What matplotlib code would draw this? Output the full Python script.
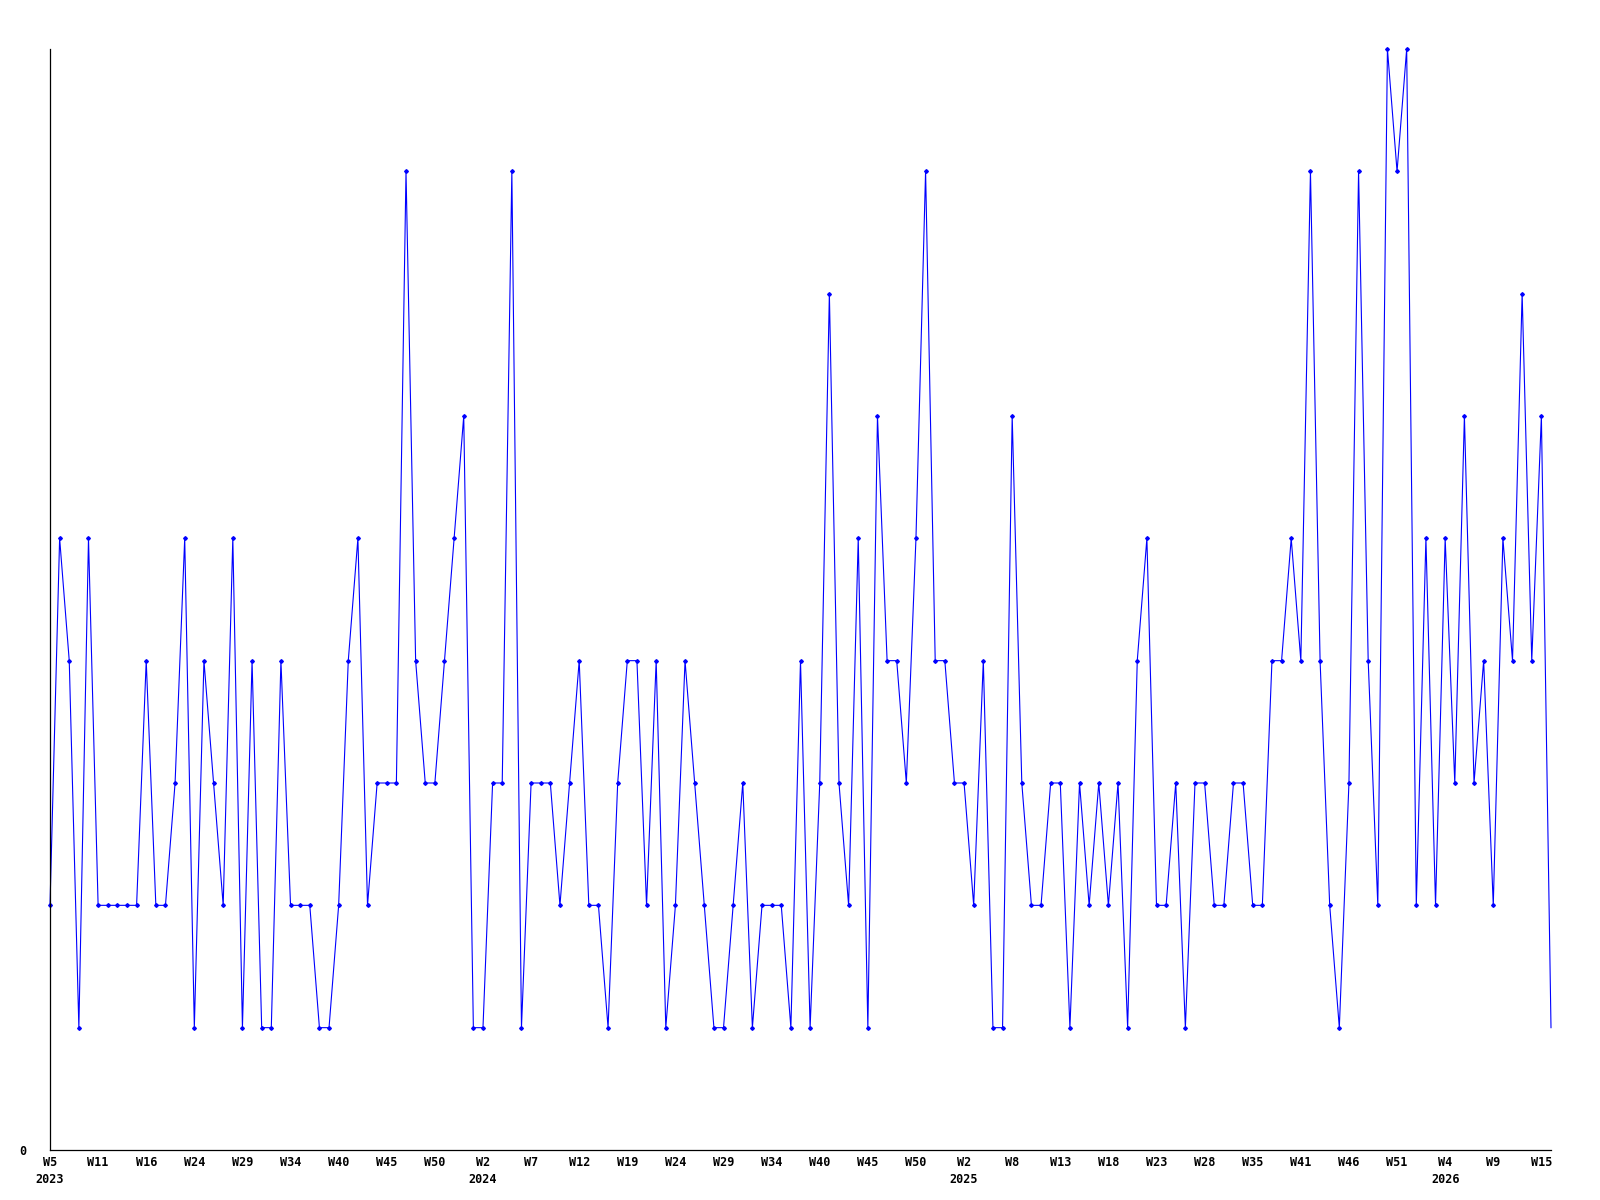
import matplotlib
matplotlib.use('Agg')
import matplotlib.pyplot as plt

# valores semanais (um ponto por semana registada)
valores = [
    2, 5, 4, 1, 5, 2, 2, 2, 2, 2,
    4, 2, 2, 3, 5, 1, 4, 3, 2, 5,
    1, 4, 1, 1, 4, 2, 2, 2, 1, 1,
    2, 4, 5, 2, 3, 3, 3, 8, 4, 3,
    3, 4, 5, 6, 1, 1, 3, 3, 8, 1,
    3, 3, 3, 2, 3, 4, 2, 2, 1, 3,
    4, 4, 2, 4, 1, 2, 4, 3, 2, 1,
    1, 2, 3, 1, 2, 2, 2, 1, 4, 1,
    3, 7, 3, 2, 5, 1, 6, 4, 4, 3,
    5, 8, 4, 4, 3, 3, 2, 4, 1, 1,
    6, 3, 2, 2, 3, 3, 1, 3, 2, 3,
    2, 3, 1, 4, 5, 2, 2, 3, 1, 3,
    3, 2, 2, 3, 3, 2, 2, 4, 4, 5,
    4, 8, 4, 2, 1, 3, 8, 4, 2, 9,
    8, 9, 2, 5, 2, 5, 3, 6, 3, 4,
    2, 5, 4, 7, 4, 6, 1,
]

# rotulo a cada 5 pontos
semanas = ['W5', 'W11', 'W16', 'W24', 'W29', 'W34', 'W40', 'W45', 'W50', 'W2',
           'W7', 'W12', 'W19', 'W24', 'W29', 'W34', 'W40', 'W45', 'W50', 'W2',
           'W8', 'W13', 'W18', 'W23', 'W28', 'W35', 'W41', 'W46', 'W51', 'W4',
           'W9', 'W15']
anos = {0: '2023', 45: '2024', 95: '2025', 145: '2026'}

fonte = dict(family='DejaVu Sans Mono', weight='bold', size=8.5)

fig = plt.figure(figsize=(16, 12), dpi=100)
ax = fig.add_axes([50/1600, 50/1200, 1501/1600, 1101/1200])

x = list(range(len(valores)))
ax.plot(x, valores, color='#0000ff', lw=0.8, marker='D', ms=1.9,
        markevery=list(range(len(valores) - 1)), clip_on=False)

ax.set_xlim(0, len(valores) - 1)
ax.set_ylim(0, 9)

for lado in ['top', 'right']:
    ax.spines[lado].set_visible(False)
for lado in ['left', 'bottom']:
    ax.spines[lado].set_color('black')
    ax.spines[lado].set_linewidth(0.9)

posicoes = list(range(0, len(valores), 5))
rotulos = []
for p, s in zip(posicoes, semanas):
    if p in anos:
        rotulos.append(s + '\n' + anos[p])
    else:
        rotulos.append(s)
ax.set_xticks(posicoes)
ax.set_xticklabels(rotulos, linespacing=1.45, **fonte)
ax.set_yticks([0])
ax.set_yticklabels(['0'], **fonte)
ax.tick_params(axis='x', length=0, pad=4)
ax.tick_params(axis='y', length=0, pad=17)

fig.savefig('out.png', dpi=100)
